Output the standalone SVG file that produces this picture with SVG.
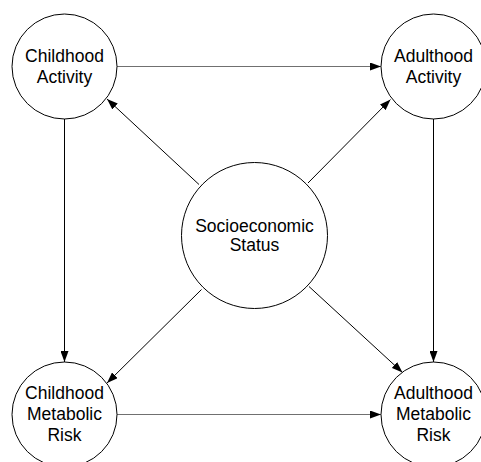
<svg xmlns="http://www.w3.org/2000/svg" width="481" height="462" viewBox="0 0 481 462">
<style>
.node circle{fill:#fff;stroke:#000;stroke-width:1}
.node text{font-family:"Liberation Sans",Arial,sans-serif;font-size:17.5px;fill:#000;text-anchor:middle}
.edges line{stroke:#000;stroke-width:1;fill:none}
.edges line.h{stroke:#707070}
</style>
<defs>
<marker id="arr" viewBox="0 0 11 8" refX="11" refY="4" markerWidth="11" markerHeight="8" markerUnits="userSpaceOnUse" orient="auto">
<path d="M0,0 L11,4 L0,8 Z" fill="#000"/>
</marker>
</defs>
<rect width="481" height="462" fill="#fff"/>
<g class="edges">
<line class="h" x1="117" y1="66.5" x2="381" y2="66.5" marker-end="url(#arr)"/>
<line class="h" x1="117" y1="414.5" x2="381" y2="414.5" marker-end="url(#arr)"/>
<line x1="64.5" y1="119" x2="64.5" y2="362" marker-end="url(#arr)"/>
<line x1="433.5" y1="119" x2="433.5" y2="362" marker-end="url(#arr)"/>
<line x1="199" y1="184.5" x2="107" y2="99" marker-end="url(#arr)"/>
<line x1="308" y1="183" x2="390.5" y2="99.5" marker-end="url(#arr)"/>
<line x1="201.5" y1="289.5" x2="107" y2="383" marker-end="url(#arr)"/>
<line x1="309" y1="286.5" x2="402.5" y2="372.5" marker-end="url(#arr)"/>
</g>
<g id="childhood-activity" class="node">
<circle cx="64.5" cy="66.5" r="52.5"/>
<text x="64.5" y="62">Childhood</text>
<text x="64.5" y="83">Activity</text>
</g>
<g id="adulthood-activity" class="node">
<circle cx="433.5" cy="66.5" r="52.5"/>
<text x="433.5" y="62">Adulthood</text>
<text x="433.5" y="83">Activity</text>
</g>
<g id="socioeconomic-status" class="node">
<circle cx="254.5" cy="235.5" r="73"/>
<text x="254.5" y="231.5">Socioeconomic</text>
<text x="254.5" y="251">Status</text>
</g>
<g id="childhood-metabolic-risk" class="node">
<circle cx="64.5" cy="414.5" r="52.5"/>
<text x="64.5" y="398.5">Childhood</text>
<text x="64.5" y="419.5">Metabolic</text>
<text x="64.5" y="441">Risk</text>
</g>
<g id="adulthood-metabolic-risk" class="node">
<circle cx="433.5" cy="414.5" r="52.5"/>
<text x="433.5" y="398.5">Adulthood</text>
<text x="433.5" y="419.5">Metabolic</text>
<text x="433.5" y="441">Risk</text>
</g>
</svg>
